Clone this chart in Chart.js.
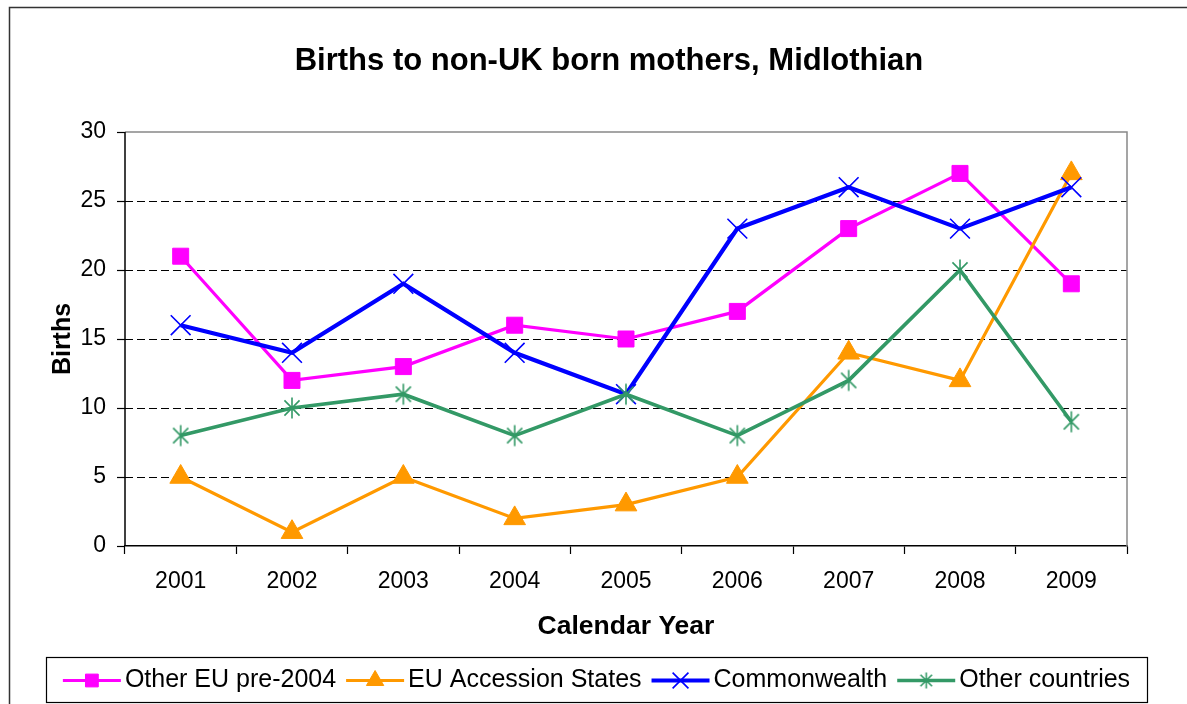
<!DOCTYPE html>
<html>
<head>
<meta charset="utf-8">
<script src="https://cdn.jsdelivr.net/npm/chart.js@4.4.1/dist/chart.umd.min.js"></script>
<style>
  html, body { margin: 0; padding: 0; background: #fff; }
  #wrap { width: 1187px; height: 704px; }
</style>
</head>
<body>
<div id="wrap"><canvas id="birthsChart" width="1187" height="704"></canvas></div>
<script>
const years = ['2001', '2002', '2003', '2004', '2005', '2006', '2007', '2008', '2009'];
const otherEuPre2004 = [21, 12, 13, 16, 15, 17, 23, 27, 19];
const euAccession = [5, 1, 5, 2, 3, 5, 14, 12, 27];
const commonwealth = [16, 14, 19, 14, 11, 23, 26, 23, 26];
const otherCountries = [8, 10, 11, 8, 11, 8, 12, 20, 9];
const yTicks = [0, 5, 10, 15, 20, 25, 30];

const FONT = "'Liberation Sans', Arial, sans-serif";
Chart.defaults.font.family = FONT;
Chart.defaults.color = '#000';

// asterisk marker like the Excel one (vertical bar + X)
function makeStar(size) {
    const cv = document.createElement('canvas');
    cv.width = size; cv.height = size;
    const c = cv.getContext('2d');
    const m = size / 2, r = size / 2 - 1.5, d = r * 0.72;
    c.strokeStyle = '#339966';
    c.lineWidth = 1.6;
    c.beginPath();
    c.moveTo(m, m - r); c.lineTo(m, m + r);
    c.moveTo(m - d, m - d); c.lineTo(m + d, m + d);
    c.moveTo(m + d, m - d); c.lineTo(m - d, m + d);
    c.stroke();
    return cv;
}
const star = makeStar(24);
const starSmall = makeStar(19);

const frameAndTitle = {
    id: 'frameAndTitle',
    beforeDraw(chart) {
        const c = chart.ctx;
        c.save();
        c.fillStyle = '#fff';
        c.fillRect(0, 0, chart.width, chart.height);
        c.strokeStyle = '#333';
        c.lineWidth = 1.5;
        c.strokeRect(9.5, 7.5, chart.width + 20, chart.height + 20);
        c.restore();
    },
    afterDraw(chart) {
        const c = chart.ctx;
        const a = chart.chartArea;
        c.save();
        // plot border: grey top/right, black left
        c.lineWidth = 1.5;
        c.strokeStyle = '#888';
        c.beginPath();
        c.moveTo(a.left, a.top); c.lineTo(a.right, a.top); c.lineTo(a.right, a.bottom);
        c.stroke();
        c.strokeStyle = '#000';
        c.beginPath();
        c.moveTo(a.left, a.top); c.lineTo(a.left, a.bottom);
        c.stroke();

        // title
        c.fillStyle = '#000';
        c.font = 'bold 31px ' + FONT;
        c.textAlign = 'center';
        c.textBaseline = 'alphabetic';
        c.fillText('Births to non-UK born mothers, Midlothian', 609, 70);

        // legend
        const box = { l: 46, t: 657, r: 1147, b: 702 };
        c.lineWidth = 1.2;
        c.strokeStyle = '#000';
        c.strokeRect(box.l + 0.5, box.t + 0.5, box.r - box.l, box.b - box.t);
        c.font = '25px ' + FONT;
        const lineLen = 58, gap = 4, itemGap = 10;
        const ds = chart.data.datasets;
        let total = 0;
        const widths = ds.map(d => c.measureText(d.label).width);
        widths.forEach(w => total += lineLen + gap + w);
        total += itemGap * (ds.length - 1);
        let x = (box.l + box.r) / 2 - total / 2;
        const y = (box.t + box.b) / 2 + 1;
        ds.forEach((d, i) => {
            c.strokeStyle = d.borderColor;
            c.lineWidth = d.borderWidth;
            c.beginPath();
            c.moveTo(x, y); c.lineTo(x + lineLen, y);
            c.stroke();
            c.fillStyle = d.pointBackgroundColor;
            c.strokeStyle = d.pointBorderColor;
            c.lineWidth = d.pointBorderWidth;
            Chart.helpers.drawPoint(c, {
                pointStyle: d.pointStyle === star ? starSmall : d.pointStyle,
                radius: d.pointRadius * 0.8,
                borderWidth: d.pointBorderWidth, rotation: 0
            }, x + lineLen / 2, y);
            c.fillStyle = '#000';
            c.textAlign = 'left';
            c.textBaseline = 'middle';
            c.fillText(d.label, x + lineLen + gap, y);
            x += lineLen + gap + widths[i] + itemGap;
        });
        c.restore();
    }
};

new Chart(document.getElementById('birthsChart'), {
    type: 'line',
    data: {
        labels: years,
        datasets: [
            {
                label: 'Other EU pre-2004',
                data: otherEuPre2004,
                borderColor: '#FF00FF',
                borderWidth: 3.2,
                pointStyle: 'rect',
                pointRadius: 11.3,
                pointBackgroundColor: '#FF00FF',
                pointBorderColor: '#FF00FF',
                pointBorderWidth: 1,
                order: 4
            },
            {
                label: 'EU Accession States',
                data: euAccession,
                borderColor: '#FF9900',
                borderWidth: 3.2,
                pointStyle: 'triangle',
                pointRadius: 12.5,
                pointBackgroundColor: '#FF9900',
                pointBorderColor: '#FF9900',
                pointBorderWidth: 1,
                order: 3
            },
            {
                label: 'Commonwealth',
                data: commonwealth,
                borderColor: '#0000FF',
                borderWidth: 4.2,
                pointStyle: 'crossRot',
                pointRadius: 14,
                pointBackgroundColor: '#0000FF',
                pointBorderColor: '#0000FF',
                pointBorderWidth: 1.6,
                order: 2
            },
            {
                label: 'Other countries',
                data: otherCountries,
                borderColor: '#339966',
                borderWidth: 3.6,
                pointStyle: star,
                pointRadius: 12,
                pointBackgroundColor: '#339966',
                pointBorderColor: '#339966',
                pointBorderWidth: 1.6,
                order: 1
            }
        ]
    },
    options: {
        responsive: false,
        animation: false,
        events: [],
        layout: { padding: { left: 40, right: 60, top: 132, bottom: 0 } },
        plugins: {
            legend: { display: false },
            title: { display: false },
            tooltip: { enabled: false }
        },
        elements: { line: { tension: 0 } },
        scales: {
            x: {
                offset: true,
                grid: {
                    offset: true,
                    drawOnChartArea: false,
                    tickLength: 8,
                    tickColor: '#000',
                    tickWidth: 1.2
                },
                border: { display: true, color: '#000', width: 1.5 },
                ticks: { font: { size: 23 }, color: '#000', padding: 14, maxRotation: 0 },
                title: {
                    display: true,
                    text: 'Calendar Year',
                    font: { size: 26.5, weight: 'bold' },
                    color: '#000',
                    padding: { top: 0, bottom: 61 }
                },
                afterFit(scale) { scale.height = 158; }
            },
            y: {
                min: 0,
                max: 30,
                afterBuildTicks(scale) { scale.ticks = yTicks.map(v => ({ value: v })); },
                grid: {
                    color: ctx => (ctx.tick && (ctx.tick.value === 0 || ctx.tick.value === 30)) ? 'rgba(0,0,0,0)' : '#000',
                    lineWidth: 1,
                    tickLength: 8,
                    tickColor: '#000',
                    tickWidth: 1.2
                },
                border: { display: false, dash: [8, 4] },
                ticks: { font: { size: 23 }, color: '#000', padding: 11 },
                title: {
                    display: true,
                    text: 'Births',
                    font: { size: 25, weight: 'bold' },
                    color: '#000',
                    padding: { top: 8, bottom: 0 }
                },
                afterFit(scale) { scale.width = 85; }
            }
        }
    },
    plugins: [frameAndTitle]
});
</script>
</body>
</html>
